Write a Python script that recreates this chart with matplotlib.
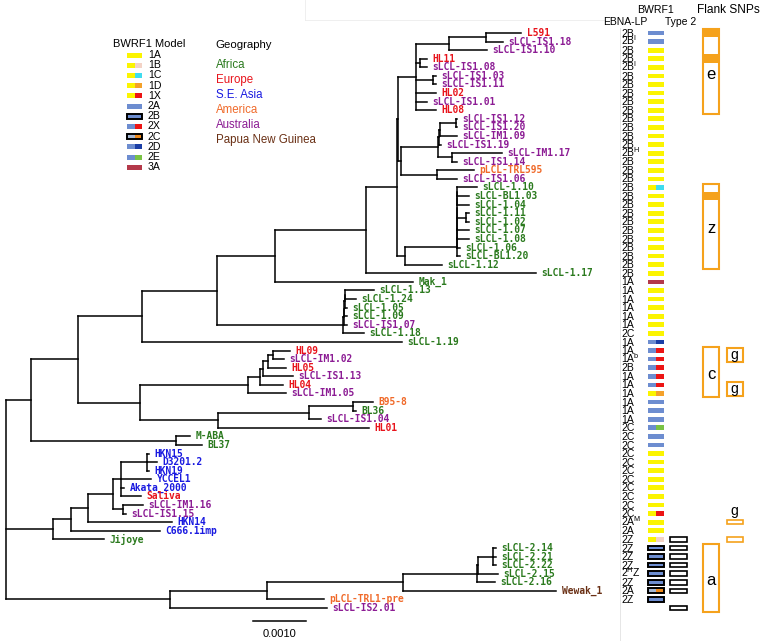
import matplotlib
matplotlib.use("Agg")
import matplotlib.pyplot as plt
from matplotlib.patches import Rectangle
from matplotlib.collections import LineCollection

plt.rcParams["font.family"] = ["Liberation Sans", "DejaVu Sans"]
plt.rcParams["mathtext.default"] = "regular"

# Phylogeny in Newick pieces (branch lengths in substitutions/site), leaves top to bottom
CLADE_E = ("(((L591:0.000660,sLCL-IS1.18:0.000321):0.000698,sLCL-IS1.10:0.000717):0.000623,"
           "(HL11:0.000132,sLCL-IS1.08:0.000132):0.000075,"
           "(sLCL-IS1.03:0.000057,sLCL-IS1.11:0.000057):0.000321,"
           "HL02:0.000377,sLCL-IS1.01:0.000208,HL08:0.000377)")
CLADE_IS112 = ("(((((sLCL-IS1.12:0.000019,sLCL-IS1.20:0.000019):0.000302,sLCL-IM1.09:0.000321):0.000019,"
               "sLCL-IS1.19:0.000038):0.000019,(sLCL-IM1.17:0.000943,sLCL-IS1.14:0.000094):0.000264):0.000698,"
               "(pLCL-TRL595:0.000698,sLCL-IS1.06:0.000377):0.000679)")
CLADE_Z = ("(((((((sLCL-1.10:0.000377,sLCL-BL1.03:0.000226):0,sLCL-1.04:0.000226):0,"
           "(sLCL-1.11:0.000057,sLCL-1.02:0.000057):0.000170):0,sLCL-1.07:0.000226):0,"
           "sLCL-1.08:0.000226):0,sLCL-1.06:0.000057):0,sLCL-BL1.20:0.000057)")
CLADE_113 = ("(((((sLCL-1.13:0.000547,sLCL-1.24:0.000208):0,sLCL-1.05:0.000038):0.000019,"
             "sLCL-1.09:0.000057):0,sLCL-IS1.07:0.000057):0.000019,sLCL-1.18:0.000396)")
CLADE_HL = ("(((((HL09:0.000321,sLCL-IM1.02:0.000208):0.000094,HL05:0.000340):0.000094,"
            "sLCL-IS1.13:0.000566):0.000057,HL04:0.000434):0.000226,sLCL-IM1.05:0.000717)")
CLADE_B95 = ("(((B95-8:0.000377,BL36:0.000057):0.000830,sLCL-IS1.04:0.000226):0.001717,"
             "HL01:0.002849)")
CLADE_SEA = ("((((((HKN15:0.000038,D3201.2:0.000189,HKN19:0.000038):0.000491,YCCEL1:0.000566,"
             "Akata_2000:0.000057,Saliva:0.000377):0.000151,"
             "(sLCL-IM1.16:0.000377,sLCL-IS1.15:0.000057):0.000189):0.000472,HKN14:0.001585):0.000321,"
             "C666.1imp:0.001679):0.000340,Jijoye:0.000962)")
CLADE_T2 = ("((((((sLCL-2.14:0.000057,sLCL-2.21:0.000057,sLCL-2.22:0.000057):0.000283,"
            "sLCL-2.15:0.000377):0.000019,sLCL-2.16:0.000340):0.001396,Wewak_1:0.002887):0.002566,"
            "pLCL-TRL1-pre:0.001075):0.001830,sLCL-IS2.01:0.002962)")

_k = f"({CLADE_E}:0.000340,{CLADE_IS112}:0.000057)"
_l = f"({CLADE_Z}:0.000981,sLCL-1.12:0.000698)"
_g = f"((({_k}:0.000019,{_l}:0.000151):0.000585,sLCL-1.17:0.003208):0.001717,Mak_1:0.002604)"
_a2 = f"(({_g}:0.001094,{CLADE_113}:0.002377):0.001415,sLCL-1.19:0.004906)"
_a1 = f"({_a2}:0.001208,({CLADE_HL}:0.002038,{CLADE_B95}:0.001472):0.001170)"
_a = f"({_a1}:0.000887,(M-ABA:0.000264,BL37:0.000491):0.002736)"
TREE = f"({_a}:0.000472,{CLADE_SEA}:0.000887,{CLADE_T2}:0.003094);"

AFRICA = ["sLCL-1.10", "sLCL-BL1.03", "sLCL-1.04", "sLCL-1.11", "sLCL-1.02", "sLCL-1.07",
          "sLCL-1.08", "sLCL-1.06", "sLCL-BL1.20", "sLCL-1.12", "sLCL-1.17", "Mak_1",
          "sLCL-1.13", "sLCL-1.24", "sLCL-1.05", "sLCL-1.09", "sLCL-1.18", "sLCL-1.19",
          "BL36", "M-ABA", "BL37", "Jijoye", "sLCL-2.14", "sLCL-2.21", "sLCL-2.22",
          "sLCL-2.15", "sLCL-2.16"]
EUROPE = ["L591", "HL11", "HL02", "HL08", "HL09", "HL05", "HL04", "HL01", "Saliva"]
SE_ASIA = ["HKN15", "D3201.2", "HKN19", "YCCEL1", "Akata_2000", "HKN14", "C666.1imp"]
AMERICA = ["pLCL-TRL595", "B95-8", "pLCL-TRL1-pre"]
PNG = ["Wewak_1"]

REGIONS = ["Africa", "Europe", "S.E. Asia", "America", "Australia", "Papua New Guinea"]
REGION_COLORS = ["#2b7a1e", "#e8141c", "#1a1ae0", "#f06a2a", "#8c1c94", "#6a3015"]

# one entry per leaf, top to bottom
EBNA_LP = (["2B", "2B$^{I}$", "2B", "2B", "2B$^{I}$"] + ["2B"] * 9 + ["2B$^{H}$"]
           + ["2B"] * 14 + ["1A"] * 6 + ["2C", "1A", "1A", "1A$^{b}$", "2B", "1A", "1A"]
           + ["1A"] * 4 + ["2C"] * 11 + ["2A$^{M}$", "2A"]
           + ["2Z"] * 4 + ["2$^{H}$Z", "2Z", "2A", "2Z"])
BWRF1 = (["2A", "2A"] + ["1A"] * 16 + ["1C"] + ["1A"] * 10 + ["3A"] + ["1A"] * 6
         + ["2D", "2X", "2X", "2X", "2X", "2X", "1D", "2A", "2A", "2A", "2E", "2A", "2A"]
         + ["1A"] * 7 + ["1X", "1A", "1A", "1B"] + ["2B"] * 5 + ["2C", "2B", "2A"])
TYPE2_ROWS = [59, 60, 61, 62, 63, 64, 65, 67]

SNP_BOXES = [("e", 0, 9), ("z", 18, 27), ("c", 37, 42), ("a", 60, 67)]
SNP_FILLED = [0, 3, 19]
G_BOXES = [(37, 38), (41, 42)]
G_BARS = [57, 59]

MODELS = ["1A", "1B", "1C", "1D", "1X", "2A", "2B", "2X", "2C", "2D", "2E", "3A"]
# left colour, right colour, outlined
MODEL_STYLE = {
    "1A": ("#fbf400", None, False), "1B": ("#fbf400", "#f3d3c6", False),
    "1C": ("#fbf400", "#3fdcef", False), "1D": ("#fbf400", "#f4a12a", False),
    "1X": ("#fbf400", "#ec1414", False), "2A": ("#6d8dd0", None, False),
    "2B": ("#6d8dd0", None, True), "2X": ("#6d8dd0", "#ec1414", False),
    "2C": ("#a6b8d4", "#ee8a1c", True), "2D": ("#6d8dd0", "#1a3ea6", False),
    "2E": ("#6d8dd0", "#79c244", False), "3A": ("#b4394a", None, False),
}

SCALE_BAR = 0.0010
PX = SCALE_BAR / 53          # tree units per pixel
ORANGE = "#f5a21c"


def parse_newick(s):
    pos = 0

    def node():
        nonlocal pos
        children = []
        if s[pos] == "(":
            pos += 1
            children.append(node())
            while s[pos] == ",":
                pos += 1
                children.append(node())
            pos += 1
        start = pos
        while s[pos] not in ",():;":
            pos += 1
        name = s[start:pos]
        length = 0.0
        if s[pos] == ":":
            pos += 1
            start = pos
            while s[pos] not in ",();":
                pos += 1
            length = float(s[start:pos])
        return {"name": name, "length": length, "children": children}

    return node()


root = parse_newick(TREE)
leaves = []


def layout(n, x0):
    n["x"] = x0 + n["length"]
    if not n["children"]:
        n["y"] = len(leaves)
        leaves.append(n)
    else:
        for c in n["children"]:
            layout(c, n["x"])
        n["y"] = (n["children"][0]["y"] + n["children"][-1]["y"]) / 2


layout(root, 0.0)

segs = []


def collect(n):
    for c in n["children"]:
        segs.append([(n["x"], c["y"]), (c["x"], c["y"])])
        collect(c)
    if n["children"]:
        segs.append([(n["x"], n["children"][0]["y"]), (n["x"], n["children"][-1]["y"])])


collect(root)

region_of = {}
for names, reg in [(AFRICA, 0), (EUROPE, 1), (SE_ASIA, 2), (AMERICA, 3), (PNG, 5)]:
    for nm in names:
        region_of[nm] = reg

fig = plt.figure(figsize=(7.6, 6.41), dpi=100)
ROW0, ROWH = 33, 8.582
ylim = ((641 - ROW0) / ROWH, -ROW0 / ROWH)

ax = fig.add_axes([0, 0, 1, 1])
ax.set_xlim(-6 * PX, 754 * PX)
ax.set_ylim(*ylim)
ax.axis("off")
ax.add_collection(LineCollection(segs, colors="black", linewidths=1.1, capstyle="projecting"))
for lf in leaves:
    ax.annotate(lf["name"], (lf["x"], lf["y"]), xytext=(4, 0), textcoords="offset points",
                va="center", ha="left", family="DejaVu Sans Mono", weight="bold",
                fontsize=6.9, color=REGION_COLORS[region_of.get(lf["name"], 4)])

# scale bar
sx = (253 - 6) * PX
ax.plot([sx, sx + SCALE_BAR], [68.5, 68.5], color="black", lw=1.1)
ax.text(sx + SCALE_BAR / 2, 70.0, f"{SCALE_BAR:.4f}", ha="center", va="center", fontsize=8)

# right-hand table: x in pixels, y in leaf rows
tab = fig.add_axes([0, 0, 1, 1])
tab.set_xlim(0, 760)
tab.set_ylim(*ylim)
tab.axis("off")
tab.patch.set_visible(False)
tab.plot([620, 620], [-0.6, 71], color="#e2e2e2", lw=0.6)


def swatch(a, x, y, w, h, model):
    left, right, boxed = MODEL_STYLE[model]
    if right is None:
        a.add_patch(Rectangle((x, y - h / 2), w, h, facecolor=left, edgecolor="none"))
    else:
        a.add_patch(Rectangle((x, y - h / 2), w / 2, h, facecolor=left, edgecolor="none"))
        a.add_patch(Rectangle((x + w / 2, y - h / 2), w / 2, h, facecolor=right, edgecolor="none"))
    if boxed:
        a.add_patch(Rectangle((x, y - h / 2), w, h, facecolor="none", edgecolor="black", lw=1.4))


for i, (lbl, mdl) in enumerate(zip(EBNA_LP, BWRF1)):
    tab.text(621, i + 0.42, lbl, ha="left", va="baseline", fontsize=7.5)
    swatch(tab, 647.5, i, 16, 0.55, mdl)
for i in TYPE2_ROWS:
    tab.add_patch(Rectangle((670, i - 0.27), 17, 0.54, facecolor="white", edgecolor="black", lw=1.2))

for lbl, r0, r1 in SNP_BOXES:
    for r in SNP_FILLED:
        if r0 <= r <= r1:
            tab.add_patch(Rectangle((703, r - 0.5), 16, 1, facecolor=ORANGE, edgecolor="none"))
    tab.add_patch(Rectangle((703, r0 - 0.45), 16, r1 - r0 + 0.9, facecolor="none",
                            edgecolor=ORANGE, lw=1.5))
    tab.text(711, (r0 + r1) / 2 + 0.3, lbl, ha="center", va="center", fontsize=12)
for r0, r1 in G_BOXES:
    tab.add_patch(Rectangle((727, r0 - 0.35), 15.5, r1 - r0 + 0.7, facecolor="white",
                            edgecolor=ORANGE, lw=1.5))
    tab.text(734.5, (r0 + r1) / 2, "g", ha="center", va="center", fontsize=10)
for r in G_BARS:
    tab.add_patch(Rectangle((727, r - 0.27), 15.5, 0.54, facecolor="white", edgecolor=ORANGE, lw=1.2))
tab.text(734.5, G_BARS[0] - 1.3, "g", ha="center", va="center", fontsize=10)

# headers, frame lines and legends in pixel coordinates
pix = fig.add_axes([0, 0, 1, 1])
pix.set_xlim(0, 760)
pix.set_ylim(641, 0)
pix.axis("off")
pix.patch.set_visible(False)
pix.plot([305, 604], [20, 20], color="#ececec", lw=0.6)
pix.plot([305, 305], [0, 20], color="#ececec", lw=0.6)
pix.text(656, 10, "BWRF1", ha="center", va="center", fontsize=7.6)
pix.text(697, 10, "Flank SNPs", ha="left", va="center", fontsize=8.6)
pix.text(625, 22, "EBNA-LP", ha="center", va="center", fontsize=7.5)
pix.text(665, 22, "Type 2", ha="left", va="center", fontsize=7.5)

pix.text(113, 44, "BWRF1 Model", ha="left", va="center", fontsize=8)
for k, m in enumerate(MODELS):
    yy = 55 + k * 10.2
    swatch(pix, 127, yy, 15, 5, m)
    pix.text(148, yy, m, ha="left", va="center", fontsize=7.6)

pix.text(215, 45, "Geography", ha="left", va="center", fontsize=8.2)
for k, (reg, col) in enumerate(zip(REGIONS, REGION_COLORS)):
    pix.text(216, 65 + k * 15, reg, ha="left", va="center", fontsize=8.3, color=col)

fig.savefig("out.png", dpi=100)
